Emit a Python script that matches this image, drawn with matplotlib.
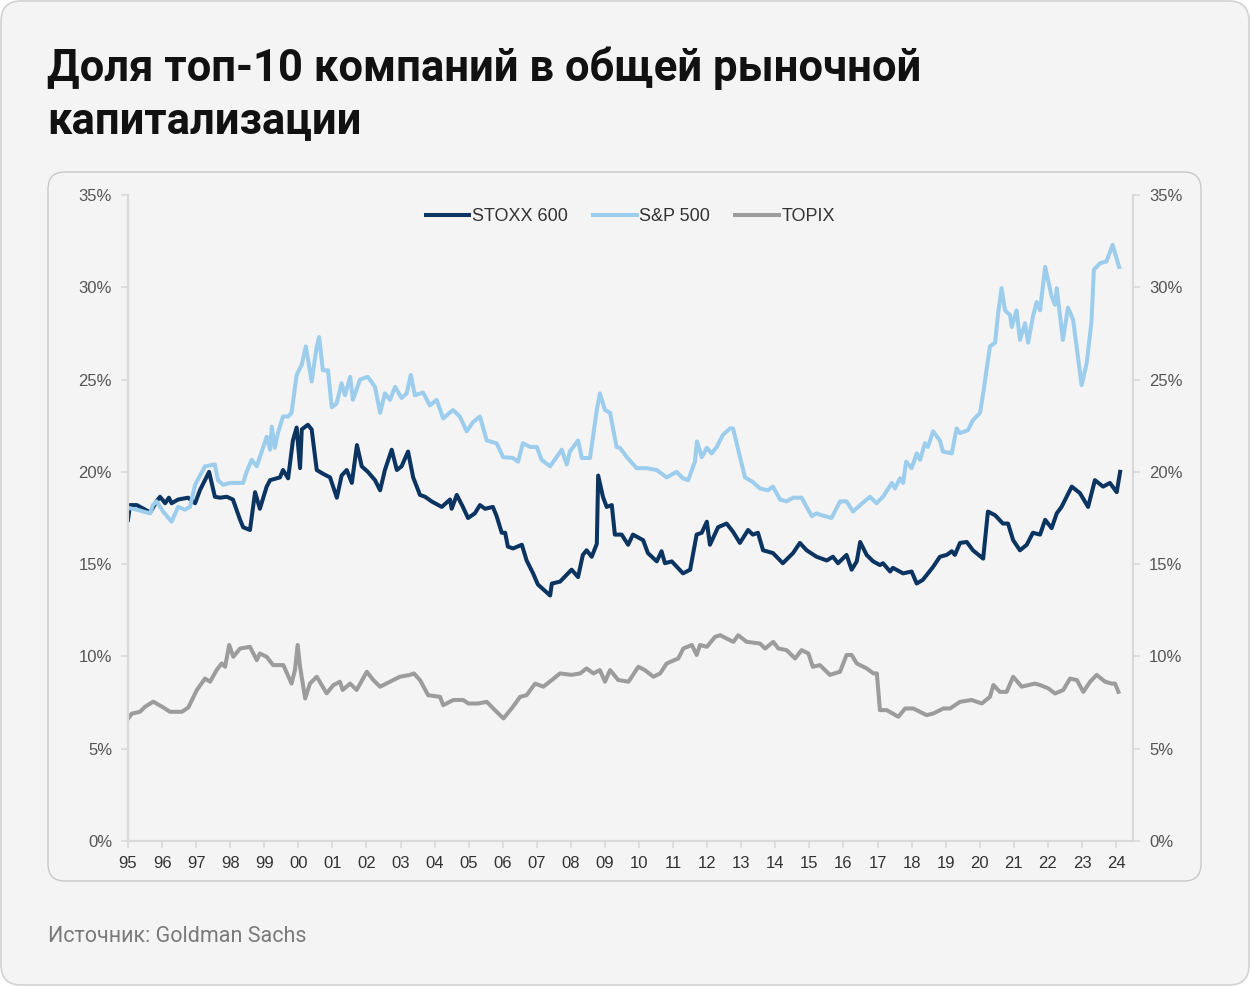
import matplotlib
matplotlib.use("Agg")
import matplotlib.pyplot as plt
from matplotlib.patches import FancyBboxPatch
import numpy as np

# series (year, % of market cap)
stoxx_t = [1995.00, 1995.06, 1995.26, 1995.65, 1995.84, 1995.94, 1996.09, 1996.20, 1996.28, 1996.47,
           1996.76, 1996.97, 1997.11, 1997.38, 1997.55, 1997.70, 1997.90, 1998.08, 1998.29, 1998.38,
           1998.58, 1998.73, 1998.87, 1999.07, 1999.17, 1999.46, 1999.55, 1999.70, 1999.84, 1999.95,
           2000.05, 2000.10, 2000.28, 2000.39, 2000.54, 2000.72, 2000.93, 2001.13, 2001.27, 2001.42,
           2001.57, 2001.72, 2001.86, 2002.04, 2002.25, 2002.40, 2002.54, 2002.74, 2002.89, 2003.03,
           2003.22, 2003.37, 2003.57, 2003.72, 2003.91, 2004.21, 2004.45, 2004.50, 2004.65, 2004.83,
           2004.98, 2005.18, 2005.33, 2005.48, 2005.71, 2005.82, 2005.97, 2006.07, 2006.15, 2006.30,
           2006.56, 2006.70, 2006.89, 2007.03, 2007.39, 2007.44, 2007.68, 2008.02, 2008.21, 2008.35,
           2008.46, 2008.61, 2008.76, 2008.80, 2008.94, 2009.05, 2009.20, 2009.29, 2009.49, 2009.68,
           2009.82, 2010.12, 2010.26, 2010.52, 2010.66, 2010.76, 2010.96, 2011.29, 2011.50, 2011.69,
           2011.84, 2011.99, 2012.08, 2012.32, 2012.57, 2012.76, 2012.96, 2013.20, 2013.34, 2013.49,
           2013.64, 2013.93, 2014.22, 2014.52, 2014.72, 2014.92, 2015.21, 2015.51, 2015.69, 2015.84,
           2016.09, 2016.24, 2016.39, 2016.49, 2016.68, 2016.87, 2017.07, 2017.16, 2017.37, 2017.45,
           2017.75, 2018.00, 2018.15, 2018.33, 2018.63, 2018.83, 2019.03, 2019.18, 2019.27, 2019.42,
           2019.62, 2019.80, 2020.10, 2020.24, 2020.45, 2020.68, 2020.83, 2020.98, 2021.18, 2021.38,
           2021.56, 2021.77, 2021.92, 2022.11, 2022.26, 2022.40, 2022.55, 2022.70, 2022.94, 2023.18,
           2023.38, 2023.62, 2023.82, 2024.02, 2024.12]
stoxx_v = [17.4, 18.2, 18.2, 17.8, 18.4, 18.65, 18.3, 18.6, 18.3, 18.5,
           18.6, 18.3, 19.0, 20.0, 18.65, 18.6, 18.65, 18.5, 17.4, 17.0,
           16.85, 18.9, 18.0, 19.2, 19.55, 19.7, 20.1, 19.65, 21.7, 22.4,
           20.2, 22.3, 22.55, 22.3, 20.1, 19.9, 19.7, 18.6, 19.8, 20.1,
           19.4, 21.45, 20.3, 20.0, 19.55, 19.0, 20.1, 21.2, 20.1, 20.3,
           21.1, 19.7, 18.75, 18.65, 18.4, 18.1, 18.5, 18.0, 18.75, 18.1,
           17.5, 17.75, 18.2, 18.0, 18.1, 17.6, 16.7, 16.7, 15.95, 15.85,
           16.05, 15.2, 14.5, 13.9, 13.3, 13.95, 14.05, 14.7, 14.3, 15.5,
           15.75, 15.4, 16.1, 19.8, 18.65, 18.1, 18.2, 16.6, 16.6, 16.05,
           16.6, 16.3, 15.6, 15.15, 15.7, 15.05, 15.15, 14.5, 14.7, 16.6,
           16.7, 17.3, 16.05, 17.0, 17.2, 16.75, 16.15, 16.85, 16.6, 16.7,
           15.75, 15.6, 15.05, 15.6, 16.15, 15.75, 15.4, 15.2, 15.4, 15.05,
           15.5, 14.7, 15.15, 16.2, 15.5, 15.15, 14.95, 15.05, 14.6, 14.8,
           14.5, 14.6, 13.95, 14.15, 14.85, 15.4, 15.5, 15.7, 15.5, 16.15,
           16.2, 15.75, 15.3, 17.85, 17.65, 17.2, 17.2, 16.3, 15.75, 16.05,
           16.7, 16.6, 17.4, 16.95, 17.75, 18.1, 18.65, 19.2, 18.85, 18.1,
           19.55, 19.2, 19.4, 18.9, 20.0]

sp_t = [1995.00, 1995.26, 1995.65, 1995.73, 1995.84, 1996.03, 1996.28, 1996.47, 1996.67, 1996.82,
        1996.97, 1997.26, 1997.55, 1997.64, 1997.79, 1997.99, 1998.23, 1998.38, 1998.48, 1998.63,
        1998.78, 1998.87, 1999.07, 1999.17, 1999.22, 1999.31, 1999.40, 1999.55, 1999.70, 1999.80,
        1999.95, 2000.10, 2000.22, 2000.39, 2000.54, 2000.61, 2000.72, 2000.87, 2000.98, 2001.12,
        2001.27, 2001.37, 2001.52, 2001.60, 2001.81, 2002.04, 2002.25, 2002.40, 2002.54, 2002.69,
        2002.84, 2003.03, 2003.18, 2003.30, 2003.42, 2003.66, 2003.86, 2004.06, 2004.25, 2004.54,
        2004.74, 2004.94, 2005.13, 2005.33, 2005.53, 2005.82, 2006.01, 2006.30, 2006.45, 2006.59,
        2006.80, 2007.00, 2007.14, 2007.39, 2007.73, 2007.88, 2007.97, 2008.21, 2008.32, 2008.56,
        2008.76, 2008.85, 2009.00, 2009.15, 2009.34, 2009.44, 2009.64, 2009.93, 2010.22, 2010.52,
        2010.81, 2011.10, 2011.29, 2011.44, 2011.64, 2011.70, 2011.84, 2011.99, 2012.13, 2012.28,
        2012.46, 2012.67, 2012.76, 2012.91, 2013.11, 2013.34, 2013.55, 2013.78, 2013.93, 2014.14,
        2014.33, 2014.52, 2014.77, 2015.07, 2015.21, 2015.36, 2015.65, 2015.90, 2016.09, 2016.28,
        2016.49, 2016.78, 2016.97, 2017.16, 2017.42, 2017.51, 2017.66, 2017.75, 2017.84, 2018.00,
        2018.15, 2018.25, 2018.39, 2018.48, 2018.63, 2018.83, 2018.92, 2019.18, 2019.32, 2019.42,
        2019.65, 2019.80, 2020.01, 2020.10, 2020.30, 2020.45, 2020.54, 2020.64, 2020.74, 2020.89,
        2020.94, 2021.08, 2021.18, 2021.33, 2021.42, 2021.56, 2021.67, 2021.77, 2021.92, 2022.11,
        2022.21, 2022.26, 2022.44, 2022.59, 2022.74, 2022.99, 2023.14, 2023.28, 2023.35, 2023.53,
        2023.72, 2023.90, 2024.09]
sp_v = [18.05, 17.95, 17.75, 18.2, 18.4, 17.85, 17.3, 18.1, 17.95, 18.1,
        19.3, 20.3, 20.4, 19.55, 19.3, 19.4, 19.4, 19.4, 20.0, 20.65,
        20.3, 20.8, 21.9, 21.2, 22.45, 21.3, 22.1, 23.0, 23.0, 23.2,
        25.25, 25.8, 26.8, 24.9, 26.8, 27.3, 25.5, 25.5, 23.5, 23.7,
        24.8, 24.15, 25.15, 23.9, 25.0, 25.15, 24.6, 23.2, 24.25, 23.9,
        24.6, 24.0, 24.25, 25.25, 24.15, 24.3, 23.6, 23.9, 22.9, 23.35,
        23.0, 22.2, 22.7, 23.0, 21.7, 21.55, 20.8, 20.75, 20.55, 21.55,
        21.35, 21.35, 20.65, 20.3, 21.2, 20.4, 21.1, 21.7, 20.75, 20.75,
        23.35, 24.25, 23.35, 23.2, 21.35, 21.3, 20.8, 20.2, 20.2, 20.1,
        19.7, 20.0, 19.65, 19.55, 20.55, 21.65, 20.8, 21.3, 21.0, 21.35,
        22.0, 22.35, 22.35, 21.2, 19.7, 19.45, 19.1, 19.0, 19.2, 18.5,
        18.4, 18.6, 18.6, 17.6, 17.75, 17.65, 17.5, 18.4, 18.4, 17.85,
        18.2, 18.65, 18.3, 18.65, 19.4, 19.1, 19.65, 19.4, 20.55, 20.2,
        21.0, 20.65, 21.55, 21.35, 22.2, 21.7, 21.1, 21.0, 22.35, 22.1,
        22.25, 22.8, 23.2, 24.25, 26.8, 27.0, 28.6, 29.95, 28.75, 28.5,
        27.85, 28.75, 27.15, 28.05, 27.0, 28.4, 29.2, 28.75, 31.1, 29.5,
        29.05, 29.95, 27.15, 28.9, 28.25, 24.7, 25.9, 28.15, 30.95, 31.3,
        31.4, 32.3, 31.1]

topix_t = [1995.01, 1995.11, 1995.35, 1995.50, 1995.74, 1996.04, 1996.23, 1996.58, 1996.77, 1997.02,
           1997.26, 1997.41, 1997.60, 1997.75, 1997.85, 1997.97, 1998.09, 1998.29, 1998.58, 1998.78,
           1998.87, 1999.07, 1999.26, 1999.56, 1999.80, 1999.90, 1999.98, 2000.05, 2000.20, 2000.34,
           2000.54, 2000.83, 2001.03, 2001.22, 2001.30, 2001.52, 2001.71, 2002.01, 2002.20, 2002.40,
           2002.69, 2002.98, 2003.28, 2003.39, 2003.57, 2003.81, 2004.16, 2004.25, 2004.55, 2004.84,
           2004.99, 2005.28, 2005.53, 2005.77, 2006.02, 2006.26, 2006.51, 2006.70, 2006.95, 2007.19,
           2007.44, 2007.68, 2008.02, 2008.27, 2008.46, 2008.66, 2008.85, 2009.00, 2009.15, 2009.39,
           2009.69, 2009.98, 2010.17, 2010.42, 2010.62, 2010.81, 2011.15, 2011.30, 2011.55, 2011.69,
           2011.79, 2011.99, 2012.23, 2012.38, 2012.57, 2012.77, 2012.91, 2013.16, 2013.55, 2013.70,
           2013.94, 2014.09, 2014.33, 2014.58, 2014.77, 2014.97, 2015.10, 2015.31, 2015.60, 2015.90,
           2016.09, 2016.24, 2016.39, 2016.68, 2016.88, 2016.98, 2017.07, 2017.27, 2017.61, 2017.81,
           2018.05, 2018.44, 2018.64, 2018.93, 2019.13, 2019.42, 2019.76, 2020.06, 2020.30, 2020.40,
           2020.59, 2020.79, 2020.98, 2021.23, 2021.43, 2021.62, 2021.77, 2022.01, 2022.21, 2022.45,
           2022.65, 2022.85, 2023.04, 2023.24, 2023.43, 2023.68, 2023.87, 2023.97, 2024.07]
topix_v = [6.65, 6.9, 7.0, 7.27, 7.55, 7.23, 7.0, 7.0, 7.23, 8.18,
           8.8, 8.63, 9.26, 9.62, 9.44, 10.62, 9.98, 10.43, 10.52, 9.8,
           10.16, 9.98, 9.53, 9.53, 8.53, 9.26, 10.62, 9.44, 7.72, 8.53,
           8.9, 8.0, 8.45, 8.63, 8.18, 8.53, 8.18, 9.17, 8.72, 8.36,
           8.63, 8.9, 9.0, 9.08, 8.72, 7.9, 7.81, 7.36, 7.64, 7.64,
           7.45, 7.45, 7.54, 7.09, 6.64, 7.18, 7.81, 7.9, 8.53, 8.36,
           8.72, 9.08, 9.0, 9.08, 9.35, 9.08, 9.26, 8.63, 9.26, 8.72,
           8.63, 9.44, 9.26, 8.9, 9.08, 9.62, 9.89, 10.43, 10.62, 10.08,
           10.62, 10.52, 11.06, 11.15, 10.97, 10.79, 11.15, 10.79, 10.7, 10.43,
           10.79, 10.43, 10.34, 9.89, 10.34, 10.16, 9.44, 9.53, 9.0, 9.17,
           10.08, 10.08, 9.62, 9.35, 9.08, 9.08, 7.09, 7.09, 6.73, 7.18,
           7.18, 6.82, 6.91, 7.18, 7.18, 7.54, 7.64, 7.45, 7.81, 8.45,
           8.08, 8.08, 8.9, 8.36, 8.45, 8.53, 8.45, 8.27, 7.99, 8.18,
           8.8, 8.72, 8.08, 8.63, 9.0, 8.63, 8.53, 8.53, 8.08]

years = list(range(1995, 2025))
year_labels = ["%02d" % (y % 100) for y in years]
pct_ticks = [0, 5, 10, 15, 20, 25, 30, 35]

title_lines = ["Доля топ-10 компаний в общей рыночной", "капитализации"]
source = "Источник: Goldman Sachs"

bg = "#f4f4f4"
W, H = 1250, 986
fig = plt.figure(figsize=(W / 100, H / 100), dpi=100)
fig.patch.set_facecolor("white")

# outer card and inner chart panel (pixel coords)
card = FancyBboxPatch((1, 1), W - 2, H - 2, boxstyle="round,pad=0,rounding_size=20",
                      transform=None, facecolor=bg, edgecolor="#d2d2d2", lw=1.2, zorder=0)
panel = FancyBboxPatch((48, H - 881), 1201 - 48, 881 - 172, boxstyle="round,pad=0,rounding_size=17",
                       transform=None, facecolor=bg, edgecolor="#c8c8c8", lw=1.0, zorder=1)
fig.patches.extend([card, panel])

fig.text(47 / W, 1 - 81 / H, title_lines[0], fontsize=31.4, fontweight="bold",
         family="Roboto", color="#111111", va="baseline")
fig.text(47 / W, 1 - 133 / H, title_lines[1], fontsize=31.4, fontweight="bold",
         family="Roboto", color="#111111", va="baseline")
fig.text(48 / W, 1 - 942 / H, source, fontsize=15.5, family="Roboto", color="#7a7a7a", va="baseline")

ax = fig.add_axes([128 / W, 1 - 841 / H, (1133 - 128) / W, (841 - 195) / H])
ax.set_facecolor("none")
ax.set_zorder(2)

ax.plot(stoxx_t, stoxx_v, color="#0b3461", lw=2.9, label="STOXX 600", solid_joinstyle="round")
ax.plot(sp_t, sp_v, color="#9dcdec", lw=2.9, label="S&P 500", solid_joinstyle="round")
ax.plot(topix_t, topix_v, color="#9c9c9c", lw=2.9, label="TOPIX", solid_joinstyle="round")

ax.set_xlim(1995.0, 1995 + (1133 - 128) / 34.07)
ax.set_ylim(0, 35)
ax.set_xticks(years)
ax.set_xticklabels(year_labels)
ax.set_yticks(pct_ticks)
ax.set_yticklabels(["%d%%" % p for p in pct_ticks])

for s in ["left", "right", "bottom"]:
    ax.spines[s].set_color("#d9d9d9")
    ax.spines[s].set_linewidth(1.6)
ax.spines["top"].set_visible(False)
ax.tick_params(axis="y", which="both", left=True, right=True, labelleft=True, labelright=True,
               length=5, width=1.2, color="#d9d9d9", labelsize=12, labelcolor="#555555", pad=6.5)
ax.tick_params(axis="x", length=5, width=1.2, color="#d9d9d9", labelsize=12,
               labelcolor="#333333", pad=6)
for lab in ax.get_xticklabels() + ax.get_yticklabels():
    lab.set_family("Liberation Sans")
ax.grid(False)

leg = ax.legend(loc="upper center", bbox_to_anchor=(0.5, 1.005), ncol=3, frameon=False,
                prop={"family": "Liberation Sans", "size": 13}, handlelength=2.4,
                handletextpad=0.15, columnspacing=1.4)
for t in leg.get_texts():
    t.set_color("#333333")

fig.savefig("out.png", dpi=100, facecolor=fig.get_facecolor())
